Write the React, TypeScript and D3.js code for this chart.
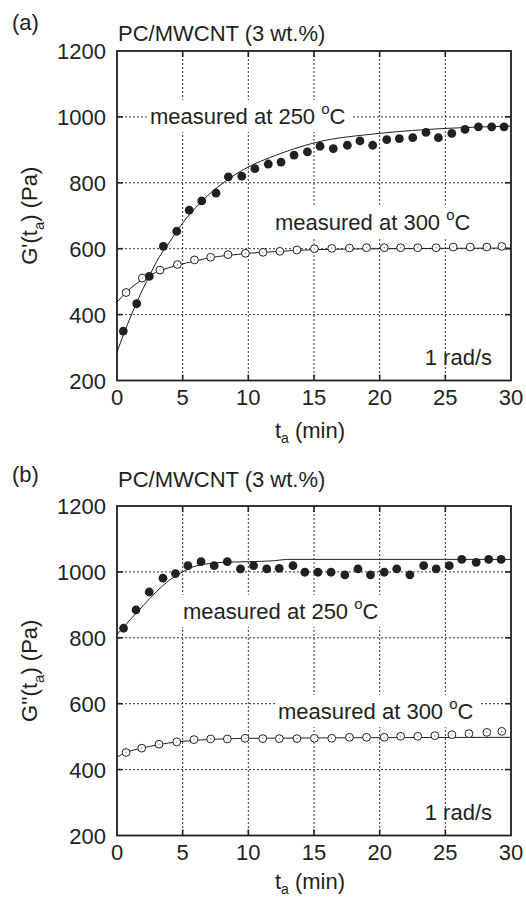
import React from "react";
import * as d3 from "d3";

// ---------- shared axis values ----------
const timeTicks = [0, 5, 10, 15, 20, 25, 30];
const modulusTicks = [200, 400, 600, 800, 1000, 1200];
const gridTime = [5, 10, 15, 20, 25];
const gridModulus = [400, 600, 800, 1000];

// ---------- (a) G'(t_a) ----------
const aHotTime = [0.48, 1.5, 2.46, 3.53, 4.55, 5.5, 6.45, 7.54, 8.48, 9.5, 10.5, 11.52, 12.49, 13.48, 14.5, 15.46, 16.47, 17.54, 18.5, 19.47, 20.54, 21.5, 22.52, 23.53, 24.47, 25.49, 26.5, 27.52, 28.53, 29.47];
const aHotValue = [350, 433, 516, 607, 653, 717, 745, 769, 818, 820, 843, 857, 863, 884, 894, 911, 904, 914, 927, 914, 931, 934, 937, 953, 937, 950, 962, 970, 970, 970];
const aHotFitTime = [0, 0.5, 1, 1.5, 2, 2.5, 3, 4, 5, 6, 7, 8, 9, 10, 12, 15, 20, 25, 30];
const aHotFitValue = [286, 340, 390, 437, 480, 520, 560, 620, 678, 725, 765, 797, 825, 848, 882, 921, 950, 965, 972];

const aCoolTime = [0.69, 1.93, 3.27, 4.6, 5.9, 7.13, 8.45, 9.78, 11.12, 12.4, 13.7, 15.03, 16.35, 17.7, 19.0, 20.35, 21.6, 22.9, 24.3, 25.6, 26.9, 28.16, 29.3];
const aCoolValue = [467, 511, 535, 552, 566, 574, 582, 586, 589, 592, 596, 600, 601, 602, 603, 603, 603, 603, 603, 605, 605, 605, 607];
const aCoolFitTime = [0, 0.69, 1.93, 3.27, 4.6, 6, 7, 8.5, 10, 12, 15, 20, 25, 30];
const aCoolFitValue = [438, 467, 507, 533, 550, 563, 572, 580, 586, 591, 597, 600, 601, 602];

// ---------- (b) G''(t_a) ----------
const bHotTime = [0.5, 1.45, 2.45, 3.5, 4.45, 5.4, 6.4, 7.4, 8.4, 9.4, 10.4, 11.4, 12.35, 13.4, 14.3, 15.3, 16.3, 17.35, 18.35, 19.3, 20.35, 21.3, 22.3, 23.35, 24.3, 25.3, 26.25, 27.35, 28.3, 29.25];
const bHotValue = [829, 885, 939, 981, 995, 1019, 1031, 1019, 1031, 1009, 1019, 1009, 1011, 1019, 999, 999, 999, 991, 1009, 991, 999, 1009, 991, 1019, 1009, 1019, 1038, 1029, 1038, 1038];
const bHotFitTime = [0, 1, 2, 3, 4, 5, 6, 7, 8, 10, 12, 13, 20, 30];
const bHotFitValue = [810, 855, 898, 940, 975, 1000, 1018, 1025, 1029, 1031, 1034, 1038, 1038, 1038];

const bCoolTime = [0.69, 1.88, 3.2, 4.55, 5.86, 7.13, 8.4, 9.75, 11.1, 12.36, 13.7, 15.03, 16.35, 17.7, 19.0, 20.35, 21.6, 22.9, 24.2, 25.5, 26.8, 28.16, 29.3];
const bCoolValue = [452, 465, 477, 484, 491, 493, 493, 495, 494, 494, 494, 495, 495, 498, 498, 498, 501, 501, 503, 506, 509, 513, 516];
const bCoolFitTime = [0, 0.69, 1.88, 3.2, 4.6, 6, 8, 10, 15, 20, 30];
const bCoolFitValue = [438, 452, 465, 476, 484, 489, 493, 495, 496, 497, 498];

const FONT = "'Liberation Sans', Arial, Helvetica, sans-serif";
const INK = "#231f20";

type Pt = { t: number; v: number };
const zip = (ts: number[], vs: number[]): Pt[] => ts.map((t, i) => ({ t, v: vs[i] }));

function Degree({ value }: { value: string }) {
  return (
    <>
      {`measured at ${value} `}
      <tspan dy={-10} fontSize={15}>o</tspan>
      <tspan dy={10}>C</tspan>
    </>
  );
}

type PanelProps = {
  top: number;
  tag: string;
  titleY: number;
  tagY: number;
  prime: string;
  xTitleY: number;
  hot: Pt[];
  hotFit: Pt[];
  cool: Pt[];
  coolFit: Pt[];
  hotLabel: { x: number; y: number; bg: boolean };
  coolLabel: { x: number; y: number; bg: boolean };
};

function Panel(p: PanelProps) {
  const left = 117;
  const right = 511;
  const height = 329.5;
  const bottom = p.top + height;
  const x = d3.scaleLinear().domain([0, 30]).range([left, right]);
  const y = d3.scaleLinear().domain([200, 1200]).range([bottom, p.top]);
  const line = d3
    .line<Pt>()
    .x((d) => x(d.t))
    .y((d) => y(d.v))
    .curve(d3.curveMonotoneX);
  const tickLen = 6;
  const labelW = 200;

  return (
    <g fontFamily={FONT} fill={INK}>
      <text x={12} y={p.tagY} fontSize={22}>{p.tag}</text>
      <text x={118} y={p.titleY} fontSize={22}>PC/MWCNT (3 wt.%)</text>

      {/* grid */}
      {gridTime.map((t) => (
        <line key={"gx" + t} x1={x(t)} x2={x(t)} y1={p.top} y2={bottom} stroke="#333" strokeWidth={1} strokeDasharray="2,2" />
      ))}
      {gridModulus.map((v) => (
        <line key={"gy" + v} x1={left} x2={right} y1={y(v)} y2={y(v)} stroke="#333" strokeWidth={1} strokeDasharray="2,2" />
      ))}

      {/* label backgrounds */}
      {p.hotLabel.bg && (
        <rect x={p.hotLabel.x - 3} y={p.hotLabel.y - 24} width={labelW + 6} height={32} fill="#fff" />
      )}
      {p.coolLabel.bg && (
        <rect x={p.coolLabel.x - 3} y={p.coolLabel.y - 24} width={labelW + 6} height={32} fill="#fff" />
      )}

      {/* ticks */}
      {gridTime.map((t) => (
        <g key={"tx" + t}>
          <line x1={x(t)} x2={x(t)} y1={bottom} y2={bottom - tickLen} stroke={INK} strokeWidth={1.6} />
          <line x1={x(t)} x2={x(t)} y1={p.top} y2={p.top + tickLen} stroke={INK} strokeWidth={1.6} />
        </g>
      ))}
      {gridModulus.map((v) => (
        <g key={"ty" + v}>
          <line x1={left} x2={left + tickLen} y1={y(v)} y2={y(v)} stroke={INK} strokeWidth={1.6} />
          <line x1={right} x2={right - tickLen} y1={y(v)} y2={y(v)} stroke={INK} strokeWidth={1.6} />
        </g>
      ))}

      {/* fits */}
      <path d={line(p.hotFit) || ""} fill="none" stroke={INK} strokeWidth={1} />
      <path d={line(p.coolFit) || ""} fill="none" stroke={INK} strokeWidth={1} />

      {/* markers */}
      {p.cool.map((d, i) => (
        <g key={"c" + i}>
          <circle cx={x(d.t)} cy={y(d.v)} r={3.9} fill="#fff" stroke={INK} strokeWidth={1} />
          <circle cx={x(d.t)} cy={y(d.v)} r={0.6} fill="#777" />
        </g>
      ))}
      {p.hot.map((d, i) => (
        <circle key={"h" + i} cx={x(d.t)} cy={y(d.v)} r={4.4} fill={INK} />
      ))}

      {/* frame */}
      <rect x={left} y={p.top} width={right - left} height={height} fill="none" stroke={INK} strokeWidth={1.8} />

      {/* tick labels */}
      {timeTicks.map((t) => (
        <text key={"lx" + t} x={x(t)} y={bottom + 24} fontSize={22} textAnchor="middle">{t}</text>
      ))}
      {modulusTicks.map((v) => (
        <text key={"ly" + v} x={106} y={y(v) + 8} fontSize={22} textAnchor="end">{v}</text>
      ))}

      {/* axis titles */}
      <text x={(left + right) / 2 - 4} y={p.xTitleY} fontSize={22} textAnchor="middle">
        t<tspan dy={5} fontSize={14}>a</tspan>
        <tspan dy={-5}> (min)</tspan>
      </text>
      <text transform={`translate(37,${(p.top + bottom) / 2}) rotate(-90)`} fontSize={22} textAnchor="middle">
        {`G${p.prime}(t`}
        <tspan dy={7} fontSize={15}>a</tspan>
        <tspan dy={-7}>{") (Pa)"}</tspan>
      </text>

      {/* annotations */}
      <text x={p.hotLabel.x} y={p.hotLabel.y} fontSize={22}><Degree value="250" /></text>
      <text x={p.coolLabel.x} y={p.coolLabel.y} fontSize={22}><Degree value="300" /></text>
      <text x={492} y={bottom - 16} fontSize={22} textAnchor="end">1 rad/s</text>
    </g>
  );
}

export default function App() {
  return (
    <svg
      width={526}
      height={897}
      viewBox="0 0 526 897"
      style={{ position: "absolute", left: 0, top: 0, background: "#fff" }}
    >
      <rect x={0} y={0} width={526} height={897} fill="#fff" />
      <Panel
        top={51}
        tag="(a)"
        tagY={30}
        titleY={41}
        prime="'"
        xTitleY={438}
        hot={zip(aHotTime, aHotValue)}
        hotFit={zip(aHotFitTime, aHotFitValue)}
        cool={zip(aCoolTime, aCoolValue)}
        coolFit={zip(aCoolFitTime, aCoolFitValue)}
        hotLabel={{ x: 150, y: 124, bg: true }}
        coolLabel={{ x: 275, y: 230, bg: true }}
      />
      <Panel
        top={506}
        tag="(b)"
        tagY={482}
        titleY={487}
        prime="''"
        xTitleY={889}
        hot={zip(bHotTime, bHotValue)}
        hotFit={zip(bHotFitTime, bHotFitValue)}
        cool={zip(bCoolTime, bCoolValue)}
        coolFit={zip(bCoolFitTime, bCoolFitValue)}
        hotLabel={{ x: 183, y: 619, bg: true }}
        coolLabel={{ x: 278, y: 719, bg: true }}
      />
    </svg>
  );
}
